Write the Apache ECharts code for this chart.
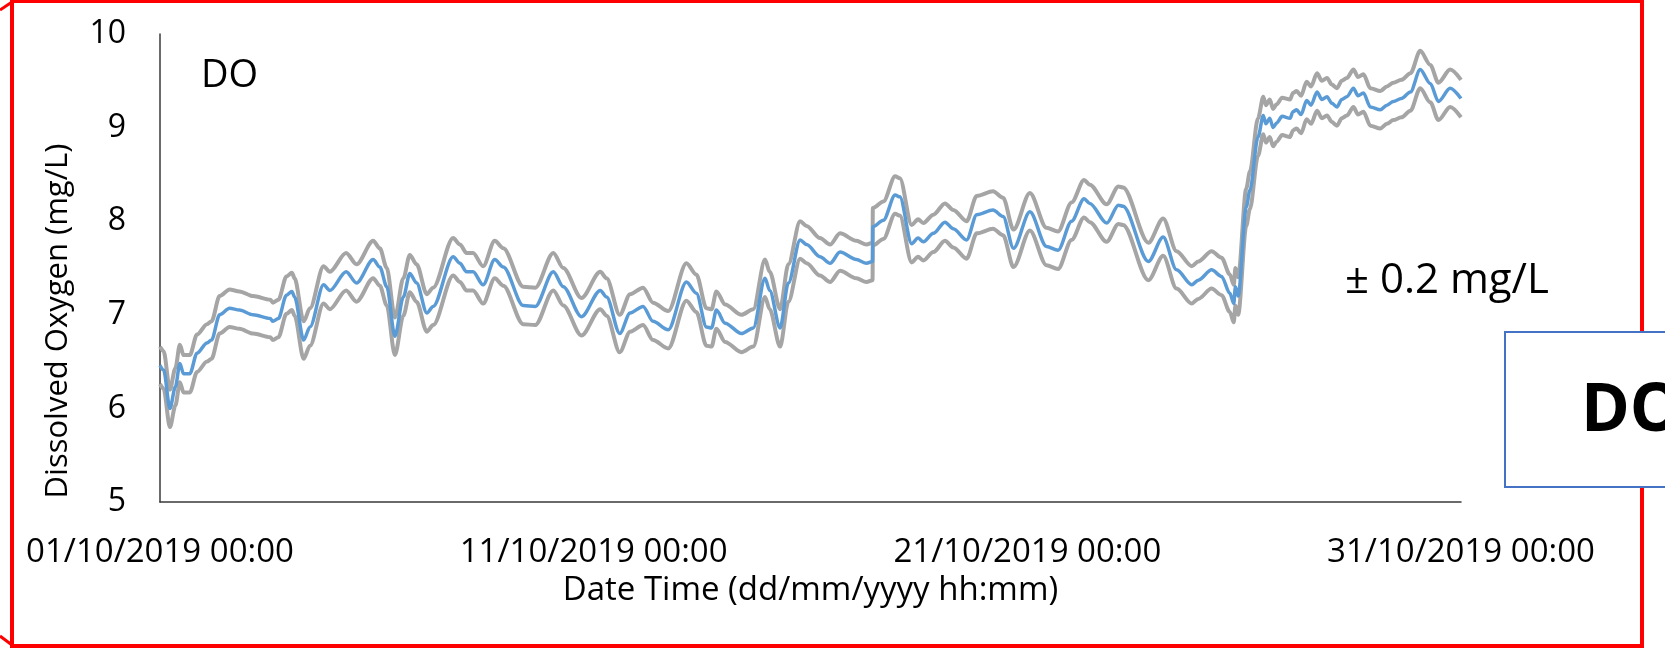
<!DOCTYPE html>
<html>
<head>
<meta charset="utf-8">
<script src="https://cdn.jsdelivr.net/npm/echarts@6/dist/echarts.min.js"></script>
<style>
  html, body { margin: 0; padding: 0; background: #ffffff; }
  #chart { width: 1665px; height: 649px; }
</style>
</head>
<body>
<div id="chart"></div>
<script>
// Dissolved oxygen record, October 2019
const startTime = '2019-10-01 00:00';
const sampleTimes = [
  '2019-10-01 00:00', '2019-10-01 02:00', '2019-10-01 05:30', '2019-10-01 08:30', '2019-10-01 11:00',
  '2019-10-01 13:00', '2019-10-01 16:30', '2019-10-01 20:30', '2019-10-02 02:00', '2019-10-02 04:30',
  '2019-10-02 09:00', '2019-10-02 14:30', '2019-10-02 20:00', '2019-10-03 03:30', '2019-10-03 13:00',
  '2019-10-03 14:30', '2019-10-03 17:30', '2019-10-03 22:00', '2019-10-04 01:00', '2019-10-04 02:30',
  '2019-10-04 07:30', '2019-10-04 11:00', '2019-10-04 18:30', '2019-10-04 22:00', '2019-10-05 07:00',
  '2019-10-05 12:45', '2019-10-05 22:00', '2019-10-06 01:40', '2019-10-06 05:30', '2019-10-06 10:00',
  '2019-10-06 14:40', '2019-10-06 18:15', '2019-10-06 22:00', '2019-10-07 03:40', '2019-10-07 07:10',
  '2019-10-07 18:15', '2019-10-07 22:00', '2019-10-08 01:40', '2019-10-08 05:15', '2019-10-08 10:50',
  '2019-10-08 17:15', '2019-10-08 22:00', '2019-10-09 09:00', '2019-10-09 15:40', '2019-10-10 01:40',
  '2019-10-10 07:10', '2019-10-10 17:15', '2019-10-11 03:40', '2019-10-11 07:10', '2019-10-11 14:25',
  '2019-10-11 20:10', '2019-10-12 03:20', '2019-10-12 08:50', '2019-10-12 17:15', '2019-10-13 03:20',
  '2019-10-13 08:50', '2019-10-13 14:25', '2019-10-13 17:15', '2019-10-13 19:55', '2019-10-14 00:45',
  '2019-10-14 09:50', '2019-10-14 16:20', '2019-10-14 22:50', '2019-10-15 01:25', '2019-10-15 07:10',
  '2019-10-15 11:45', '2019-10-15 18:15', '2019-10-15 21:50', '2019-10-16 05:15', '2019-10-16 10:50',
  '2019-10-16 16:20', '2019-10-17 01:25', '2019-10-17 07:00', '2019-10-17 10:20', '2019-10-17 10:30',
  '2019-10-17 16:20', '2019-10-17 22:50', '2019-10-18 01:25', '2019-10-18 08:00', '2019-10-18 11:30',
  '2019-10-18 14:25', '2019-10-18 20:00', '2019-10-19 02:25', '2019-10-19 07:00', '2019-10-19 14:25',
  '2019-10-19 20:00', '2019-10-20 05:00', '2019-10-20 10:35', '2019-10-20 16:20', '2019-10-21 01:25',
  '2019-10-21 10:35', '2019-10-21 17:00', '2019-10-22 00:30', '2019-10-22 07:25', '2019-10-22 10:35',
  '2019-10-22 19:55', '2019-10-23 02:25', '2019-10-23 05:00', '2019-10-23 19:00', '2019-10-24 03:10',
  '2019-10-24 10:35', '2019-10-24 19:00', '2019-10-24 22:35', '2019-10-25 06:00', '2019-10-25 11:30',
  '2019-10-25 16:05', '2019-10-25 18:15', '2019-10-25 19:10', '2019-10-25 20:40', '2019-10-26 01:10',
  '2019-10-26 03:10', '2019-10-26 07:40', '2019-10-26 10:35', '2019-10-26 12:00', '2019-10-26 14:10',
  '2019-10-26 16:00', '2019-10-26 18:00', '2019-10-26 21:00', '2019-10-27 01:25', '2019-10-27 03:00',
  '2019-10-27 05:00', '2019-10-27 07:30', '2019-10-27 10:35', '2019-10-27 13:00', '2019-10-27 16:20',
  '2019-10-27 19:00', '2019-10-27 21:50', '2019-10-28 00:30', '2019-10-28 03:20', '2019-10-28 06:00',
  '2019-10-28 08:50', '2019-10-28 12:30', '2019-10-28 15:00', '2019-10-28 18:00', '2019-10-28 21:50',
  '2019-10-29 03:20', '2019-10-29 07:00', '2019-10-29 10:35', '2019-10-29 15:00', '2019-10-29 20:00',
  '2019-10-30 01:25', '2019-10-30 07:00', '2019-10-30 11:30', '2019-10-30 18:00', '2019-10-31 00:00'
];
const doValues = [
  6.46, 6.41, 6.00, 6.23, 6.48,
  6.37, 6.37, 6.59, 6.70, 6.73,
  7.00, 7.07, 7.05, 7.00, 6.96,
  6.93, 6.96, 7.21, 7.25, 7.19,
  6.73, 6.87, 7.32, 7.26, 7.46,
  7.34, 7.59, 7.51, 7.30, 6.77,
  7.19, 7.44, 7.34, 7.02, 7.09,
  7.62, 7.55, 7.46, 7.46, 7.32,
  7.59, 7.51, 7.10, 7.09, 7.46,
  7.30, 6.98, 7.26, 7.19, 6.80,
  7.02, 7.09, 6.93, 6.84, 7.35,
  7.23, 6.87, 6.86, 7.05, 6.91,
  6.80, 6.86, 7.39, 7.26, 6.86,
  7.34, 7.80, 7.75, 7.62, 7.55,
  7.67, 7.59, 7.55, 7.57, 7.94,
  8.01, 8.28, 8.26, 7.76, 7.82,
  7.78, 7.87, 7.99, 7.92, 7.80,
  8.07, 8.12, 8.05, 7.71, 8.10,
  7.73, 7.69, 8.00, 8.24, 8.19,
  7.98, 8.17, 8.16, 7.57, 7.83,
  7.48, 7.32, 7.37, 7.48, 7.41,
  7.23, 7.12, 7.30, 7.20, 8.15,
  8.33, 8.90, 9.13, 9.04, 9.10,
  9.00, 9.05, 9.12, 9.10, 9.17,
  9.19, 9.14, 9.29, 9.24, 9.38,
  9.30, 9.33, 9.26, 9.22, 9.30,
  9.33, 9.42, 9.34, 9.37, 9.22,
  9.19, 9.24, 9.28, 9.31, 9.38,
  9.62, 9.47, 9.28, 9.42, 9.31
];
const uncertainty = 0.2; // sensor accuracy, mg/L
const yTicks = [5, 6, 7, 8, 9, 10];
const xTickDays = [0, 10, 20, 30];

function parseStamp(s) {
  const [d, t] = s.split(' ');
  const [Y, M, D] = d.split('-').map(Number);
  const [h, m] = t.split(':').map(Number);
  return Date.UTC(Y, M - 1, D, h, m);
}
const t0 = parseStamp(startTime);
const DAY = 86400000;
const days = sampleTimes.map(s => (parseStamp(s) - t0) / DAY);

const pad = n => String(n).padStart(2, '0');
function dayLabel(v) {
  const dt = new Date(t0 + v * DAY);
  return pad(dt.getUTCDate()) + '/' + pad(dt.getUTCMonth() + 1) + '/' + dt.getUTCFullYear() +
    ' ' + pad(dt.getUTCHours()) + ':' + pad(dt.getUTCMinutes());
}

const mid = days.map((d, i) => [d, doValues[i]]);
const upper = days.map((d, i) => [d, +(doValues[i] + uncertainty).toFixed(2)]);
const lower = days.map((d, i) => [d, +(doValues[i] - uncertainty).toFixed(2)]);

const FONT = '"Open Sans", "Noto Sans", sans-serif';
const chart = echarts.init(document.getElementById('chart'), null, { renderer: 'canvas' });

const lineBase = { type: 'line', showSymbol: false, silent: true, smooth: 0.3, smoothMonotone: 'x' };

chart.setOption({
  animation: false,
  backgroundColor: '#ffffff',
  grid: { left: 160, right: 204, top: 34, bottom: 147, containLabel: false },
  xAxis: {
    type: 'value',
    min: xTickDays[0],
    max: xTickDays[xTickDays.length - 1],
    interval: 10,
    axisLine: { show: true, lineStyle: { color: '#3a3a3a', width: 1.5 } },
    axisTick: { show: false },
    splitLine: { show: false },
    axisLabel: {
      margin: 34,
      color: '#000',
      fontFamily: FONT,
      fontSize: 33,
      formatter: v => dayLabel(v),
      showMinLabel: true,
      showMaxLabel: true
    },
    name: 'Date Time (dd/mm/yyyy hh:mm)',
    nameLocation: 'middle',
    nameGap: 67,
    nameTextStyle: { color: '#000', fontFamily: FONT, fontSize: 33 }
  },
  yAxis: {
    type: 'value',
    min: yTicks[0],
    max: yTicks[yTicks.length - 1],
    interval: 1,
    axisLine: { show: true, lineStyle: { color: '#3a3a3a', width: 1.5 } },
    axisTick: { show: false },
    splitLine: { show: false },
    axisLabel: { margin: 34, color: '#000', fontFamily: FONT, fontSize: 32 }
  },
  series: [
    Object.assign({}, lineBase, {
      name: 'Upper', data: upper, lineStyle: { color: '#A5A5A5', width: 4 }, z: 2
    }),
    Object.assign({}, lineBase, {
      name: 'Lower', data: lower, lineStyle: { color: '#A5A5A5', width: 4 }, z: 2
    }),
    Object.assign({}, lineBase, {
      name: 'DO', data: mid, lineStyle: { color: '#5B9BD5', width: 3.5 }, z: 3
    })
  ],
  graphic: [
    {
      type: 'rect', z: 10, silent: true,
      shape: { x: 12, y: 1, width: 1630, height: 645 },
      style: { fill: 'none', stroke: '#FF0000', lineWidth: 4 }
    },
    {
      type: 'polyline', z: 10, silent: true,
      shape: { points: [[0, 10], [12, 2]] },
      style: { stroke: '#FF0000', lineWidth: 3 }
    },
    {
      type: 'polyline', z: 10, silent: true,
      shape: { points: [[0, 636], [12, 645]] },
      style: { stroke: '#FF0000', lineWidth: 3 }
    },
    {
      type: 'rect', z: 20, silent: true,
      shape: { x: 1505, y: 332, width: 220, height: 155 },
      style: { fill: '#ffffff', stroke: '#4472C4', lineWidth: 2 }
    },
    {
      type: 'text', z: 21, silent: true, x: 1581, y: 412,
      style: { text: 'DO', font: 'bold 66px ' + FONT, fill: '#000', verticalAlign: 'middle', align: 'left' }
    },
    {
      type: 'text', z: 21, silent: true, x: 201, y: 76,
      style: { text: 'DO', font: '38px ' + FONT, fill: '#000', verticalAlign: 'middle', align: 'left' }
    },
    {
      type: 'text', z: 21, silent: true, x: 1345, y: 281,
      style: { text: '\u00B1 0.2 mg/L', font: '42px ' + FONT, fill: '#000', verticalAlign: 'middle', align: 'left' }
    },
    {
      type: 'text', z: 21, silent: true, x: 58, y: 321, rotation: Math.PI / 2,
      style: { text: 'Dissolved Oxygen (mg/L)', font: '31px ' + FONT, fill: '#000', verticalAlign: 'middle', align: 'center' }
    }
  ]
});
</script>
</body>
</html>
